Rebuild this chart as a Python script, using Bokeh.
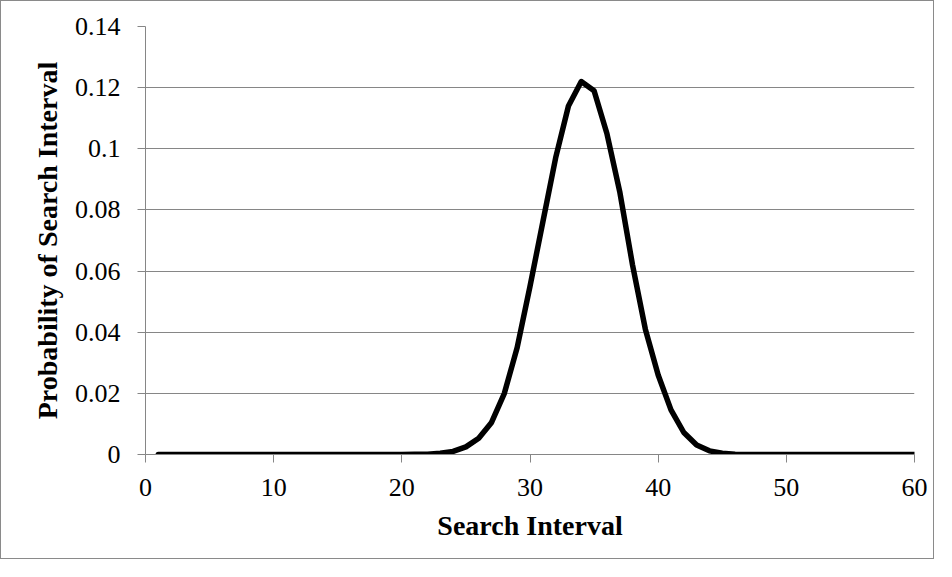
from bokeh.plotting import figure
from bokeh.models import Range1d, FixedTicker, CustomJSTickFormatter
from bokeh.embed import file_html
from bokeh.resources import INLINE

# Data: search interval (1..60) and its probability
intervals = list(range(1, 61))
probabilities = [
    0, 0, 0, 0, 0, 0, 0, 0, 0, 0,                 # 1-10
    0, 0, 0, 0, 0, 0, 0, 0, 0, 0.00002,           # 11-20
    0.00005, 0.00012, 0.0004, 0.001, 0.0025,      # 21-25
    0.0053, 0.0105, 0.020, 0.035, 0.055,          # 26-30
    0.076, 0.097, 0.114, 0.122, 0.119,            # 31-35
    0.105, 0.086, 0.062, 0.041, 0.026,            # 36-40
    0.0146, 0.0072, 0.0031, 0.0012, 0.0004,       # 41-45
    0.0001, 0.00003, 0, 0, 0,                     # 46-50
    0, 0, 0, 0, 0, 0, 0, 0, 0, 0,                 # 51-60
]
x_ticks = [0, 10, 20, 30, 40, 50, 60]
y_ticks = [0, 0.02, 0.04, 0.06, 0.08, 0.1, 0.12, 0.14]
y_tick_labels = ["0", "0.02", "0.04", "0.06", "0.08", "0.1", "0.12", "0.14"]

FONT = "Liberation Serif"
GRID = "#868686"

p = figure(width=934, height=559, output_backend="svg", toolbar_location=None,
           x_range=Range1d(0, 60), y_range=Range1d(0, 0.14),
           min_border_left=144, min_border_right=21, min_border_top=25,
           min_border_bottom=106)
p.styles = {"border": "1px solid #8a8a8a"}
p.outline_line_color = None
p.background_fill_color = "white"
p.border_fill_color = "white"

p.line(intervals, probabilities, line_color="black", line_width=5.5,
       line_cap="round", line_join="round")

# grid
p.xgrid.grid_line_color = None
p.ygrid.grid_line_color = GRID
p.ygrid.grid_line_width = 1
p.ygrid.ticker = FixedTicker(ticks=y_ticks)

# x axis
xa = p.xaxis[0]
xa.ticker = FixedTicker(ticks=x_ticks)
xa.minor_tick_line_color = None
xa.major_tick_in = 0
xa.major_tick_out = 8
xa.axis_line_color = GRID
xa.major_tick_line_color = GRID
xa.major_label_text_font = FONT
xa.major_label_text_font_size = "26px"
xa.major_label_text_color = "black"
xa.major_label_standoff = 16
xa.axis_label = "Search Interval"
xa.axis_label_text_font = FONT
xa.axis_label_text_font_style = "bold"
xa.axis_label_text_font_size = "28px"
xa.axis_label_text_color = "black"
xa.axis_label_standoff = 11

# y axis
ya = p.yaxis[0]
ya.ticker = FixedTicker(ticks=y_ticks)
ya.formatter = CustomJSTickFormatter(
    args=dict(tv=y_ticks, lv=y_tick_labels),
    code="""
    for (let i = 0; i < tv.length; i++) {
        if (Math.abs(tv[i] - tick) < 1e-9) return lv[i];
    }
    return '';
    """)
ya.minor_tick_line_color = None
ya.major_tick_in = 0
ya.major_tick_out = 8
ya.axis_line_color = GRID
ya.major_tick_line_color = GRID
ya.major_label_text_font = FONT
ya.major_label_text_font_size = "26px"
ya.major_label_text_color = "black"
ya.major_label_standoff = 17
ya.axis_label = "Probability of Search Interval"
ya.axis_label_text_font = FONT
ya.axis_label_text_font_style = "bold"
ya.axis_label_text_font_size = "28px"
ya.axis_label_text_color = "black"
ya.axis_label_standoff = 9

open("out.html", "w").write(file_html(p, INLINE))
